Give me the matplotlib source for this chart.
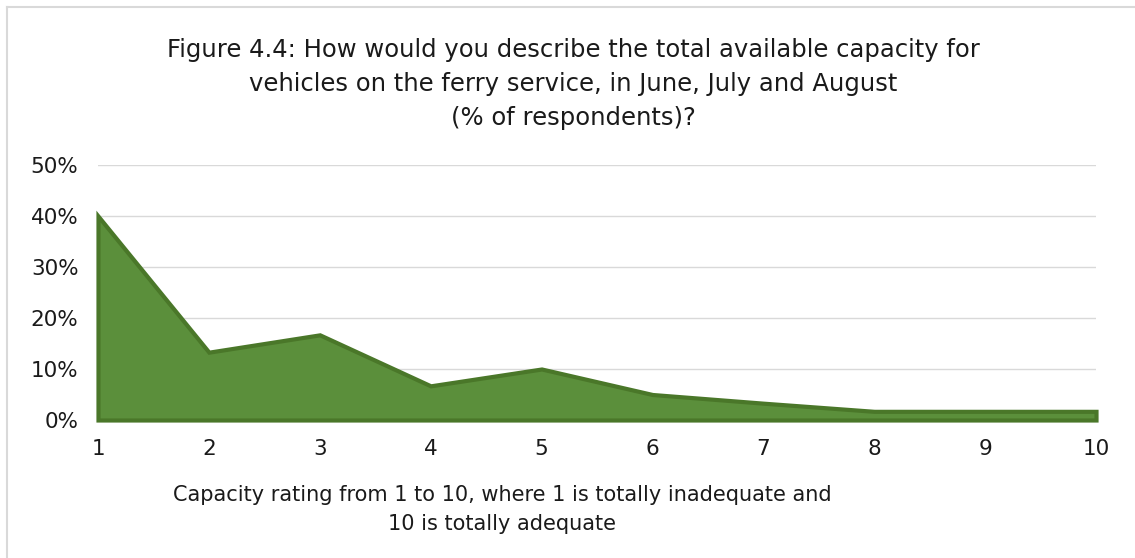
import matplotlib
matplotlib.use("Agg")
import matplotlib.pyplot as plt
from matplotlib.lines import Line2D
from matplotlib.ticker import PercentFormatter

plt.rcParams['font.family'] = ['DejaVu Sans']

ratings = [1, 2, 3, 4, 5, 6, 7, 8, 9, 10]
share = [40.0, 13.3, 16.7, 6.7, 10.0, 5.0, 3.3, 1.7, 1.7, 1.7]
y_ticks = [0, 10, 20, 30, 40, 50]

title_lines = [
    "Figure 4.4: How would you describe the total available capacity for",
    "vehicles on the ferry service, in June, July and August",
    "(% of respondents)?",
]
x_label_lines = [
    "Capacity rating from 1 to 10, where 1 is totally inadequate and",
    "10 is totally adequate",
]

W, H = 1135, 558
fig = plt.figure(figsize=(W / 100, H / 100), dpi=100)
fig.patch.set_facecolor('white')

# light frame along the top and left edge of the chart box
fig.add_artist(Line2D([7 / W, 7 / W], [0, 1 - 7 / H], color='#D9D9D9', lw=1.5,
                      transform=fig.transFigure))
fig.add_artist(Line2D([7 / W, 1], [1 - 7 / H, 1 - 7 / H], color='#D9D9D9', lw=1.5,
                      transform=fig.transFigure))

ax = fig.add_axes([98 / W, 138 / H, (1096 - 98) / W, (420 - 165) / H])
ax.set_xlim(ratings[0], ratings[-1])
ax.set_ylim(y_ticks[0], y_ticks[-1])

ax.fill_between(ratings, share, 0, facecolor='#5B8F3B', edgecolor='#4A7729',
                linewidth=3, joinstyle='miter', zorder=3, clip_on=False)

ax.set_yticks(y_ticks)
ax.yaxis.set_major_formatter(PercentFormatter(decimals=0))
ax.set_xticks(ratings)
ax.grid(axis='y', color='#D9D9D9', lw=1, zorder=0)
ax.set_axisbelow(True)
for s in ax.spines.values():
    s.set_visible(False)
ax.tick_params(axis='both', length=0, labelsize=15.5, colors='#1A1A1A')
ax.tick_params(axis='y', pad=14)
ax.tick_params(axis='x', pad=14)

for line, y in zip(title_lines, [48, 82, 115]):
    fig.text(573 / W, 1 - y / H, line, ha='center', va='center_baseline',
             fontsize=17.5, color='#1A1A1A')
for line, y in zip(x_label_lines, [493, 522]):
    fig.text(502 / W, 1 - y / H, line, ha='center', va='center_baseline',
             fontsize=15, color='#1A1A1A')

fig.savefig('out.png', dpi=100, facecolor='white')
